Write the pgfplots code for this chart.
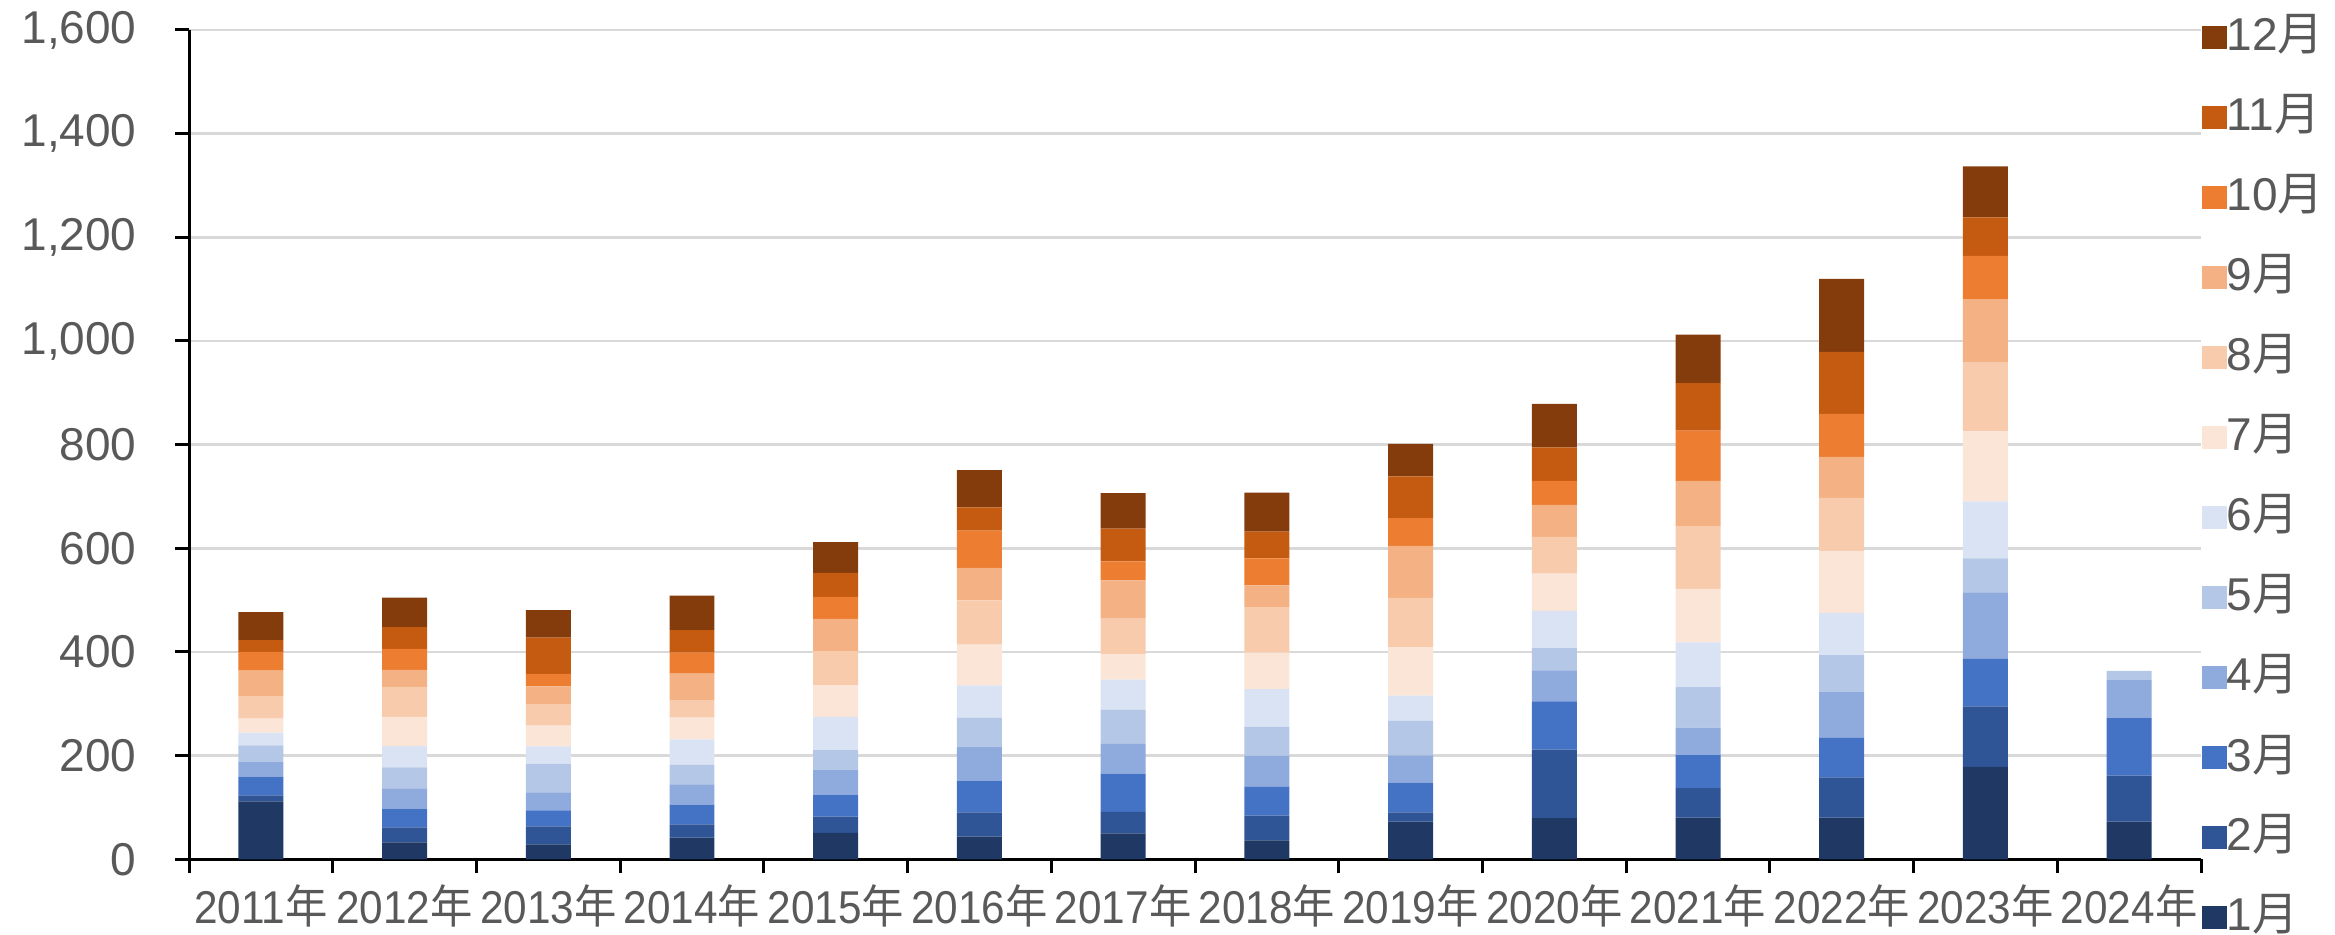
\documentclass[border=0pt]{standalone}
\usepackage{pgfplots}
\usepackage{pgfplotstable}
\usepackage{graphicx}
\usepackage{fontspec}
\setmainfont{Liberation Sans}
\newfontfamily\cjk{Noto Sans CJK SC}
\pgfplotsset{compat=1.18}
\definecolor{c1}{HTML}{1F3864}
\definecolor{c2}{HTML}{2F5597}
\definecolor{c3}{HTML}{4472C4}
\definecolor{c4}{HTML}{8FAADC}
\definecolor{c5}{HTML}{B4C7E7}
\definecolor{c6}{HTML}{DAE3F3}
\definecolor{c7}{HTML}{FBE5D6}
\definecolor{c8}{HTML}{F8CBAD}
\definecolor{c9}{HTML}{F4B183}
\definecolor{c10}{HTML}{ED7D31}
\definecolor{c11}{HTML}{C55A11}
\definecolor{c12}{HTML}{843C0C}
\definecolor{txtgray}{HTML}{595959}
\definecolor{gridgray}{HTML}{D9D9D9}
\pgfplotstableread{
x m1 m2 m3 m4 m5 m6 m7 m8 m9 m10 m11 m12
0 112 11.5 36 29 31.5 24.5 27 42.5 50 36 23 54
1 32.8 28.9 36 39.3 40.5 41.1 56 57.9 32.8 40.5 42.4 56.6
2 28.9 34.8 30.8 34.8 55.3 33.4 39.9 40.5 35.4 23.8 70.1 53.3
3 41.8 25.7 38 39.2 37.3 49.5 41.8 32.8 52.1 40.5 43.7 66.3
4 50.8 31.5 42.5 48.2 37.9 63.7 61.7 65.6 61.8 42.4 46.3 59.8
5 43.7 47 61.1 65.6 55.3 63 78.4 85.6 62.4 72 45 72
6 50.3 41.3 73.6 57.4 65.8 58.1 49 69 73.6 36.7 63.3 68.4
7 36.8 47.7 55.5 59.4 56.7 72.3 70.3 87.8 41.9 52.2 51.7 75.4
8 72.7 18 57.2 52.7 66.9 48.3 93.8 94.6 100.3 54 80.4 62.4
9 79.7 131.9 93.2 59.8 43.1 71.4 72 70.8 61.7 46.3 65 83.6
10 80.6 56.6 63.8 53 78.4 86.3 103.1 121.2 87 97.3 91.4 93.6
11 80.6 77.6 76.2 89.3 70.3 81.3 119.8 102.3 79.1 82.7 119.8 141
12 178.2 117 91.3 128.6 65.6 109.9 134.8 133.8 121.5 83.3 74.5 98.4
13 72.7 88.6 110.9 73.5 17.8 0 0 0 0 0 0 0
}\data
\newcommand{\yr}[1]{\scalebox{0.92}[1]{#1{\cjk 年}}}
\begin{document}
\begin{tikzpicture}
\begin{axis}[
  scale only axis,
  width=603.6pt, height=248.8pt,
  ybar stacked, bar width=0.313,
  xmin=-0.5, xmax=13.5,
  ymin=0, ymax=1600,
  ytick={0,200,...,1600},
  xtick={-0.5,0.5,...,13.5},
  x tick label as interval,
  xticklabels={\yr{2011},\yr{2012},\yr{2013},\yr{2014},\yr{2015},\yr{2016},\yr{2017},\yr{2018},\yr{2019},\yr{2020},\yr{2021},\yr{2022},\yr{2023},\yr{2024}},
  axis x line*=bottom, axis y line*=left,
  axis line style={black, line width=0.9pt},
  tick align=outside,
  major tick length=4.2pt,
  tick style={black, line width=0.9pt},
  ymajorgrids, grid style={gridgray, line width=0.8pt},
  tick label style={font=\fontsize{13.8}{16}\selectfont, text=txtgray},
  /pgf/number format/assume math mode=true,
  /pgf/number format/1000 sep={,},
  scaled y ticks=false,
  xticklabel style={yshift=0pt},
  yticklabel style={xshift=-8pt},
  legend style={at={(1,1.0197)}, anchor=north west, draw=none, fill=none,
    font=\fontsize{13.8}{16}\selectfont, text=txtgray, row sep=10pt, inner sep=0pt,
    nodes={inner sep=0pt, text height=11pt, text depth=3pt, anchor=west},
    /tikz/every even column/.append style={column sep=4pt}},
  legend cell align=left,
  reverse legend,
  legend image code/.code={\fill[#1] (0pt,-3.4pt) rectangle (7.5pt,3.4pt);},
]
\addplot[fill=c1, draw=none] table[x=x, y=m1] {\data};
\addlegendentry{1{\cjk 月}}
\addplot[fill=c2, draw=none] table[x=x, y=m2] {\data};
\addlegendentry{2{\cjk 月}}
\addplot[fill=c3, draw=none] table[x=x, y=m3] {\data};
\addlegendentry{3{\cjk 月}}
\addplot[fill=c4, draw=none] table[x=x, y=m4] {\data};
\addlegendentry{4{\cjk 月}}
\addplot[fill=c5, draw=none] table[x=x, y=m5] {\data};
\addlegendentry{5{\cjk 月}}
\addplot[fill=c6, draw=none] table[x=x, y=m6] {\data};
\addlegendentry{6{\cjk 月}}
\addplot[fill=c7, draw=none] table[x=x, y=m7] {\data};
\addlegendentry{7{\cjk 月}}
\addplot[fill=c8, draw=none] table[x=x, y=m8] {\data};
\addlegendentry{8{\cjk 月}}
\addplot[fill=c9, draw=none] table[x=x, y=m9] {\data};
\addlegendentry{9{\cjk 月}}
\addplot[fill=c10, draw=none] table[x=x, y=m10] {\data};
\addlegendentry{10{\cjk 月}}
\addplot[fill=c11, draw=none] table[x=x, y=m11] {\data};
\addlegendentry{11{\cjk 月}}
\addplot[fill=c12, draw=none] table[x=x, y=m12] {\data};
\addlegendentry{12{\cjk 月}}
\end{axis}
\pgfresetboundingbox
\path[use as bounding box] (-56.7pt,-22.7pt) rectangle (643.8pt,257.8pt);
\end{tikzpicture}
\end{document}
